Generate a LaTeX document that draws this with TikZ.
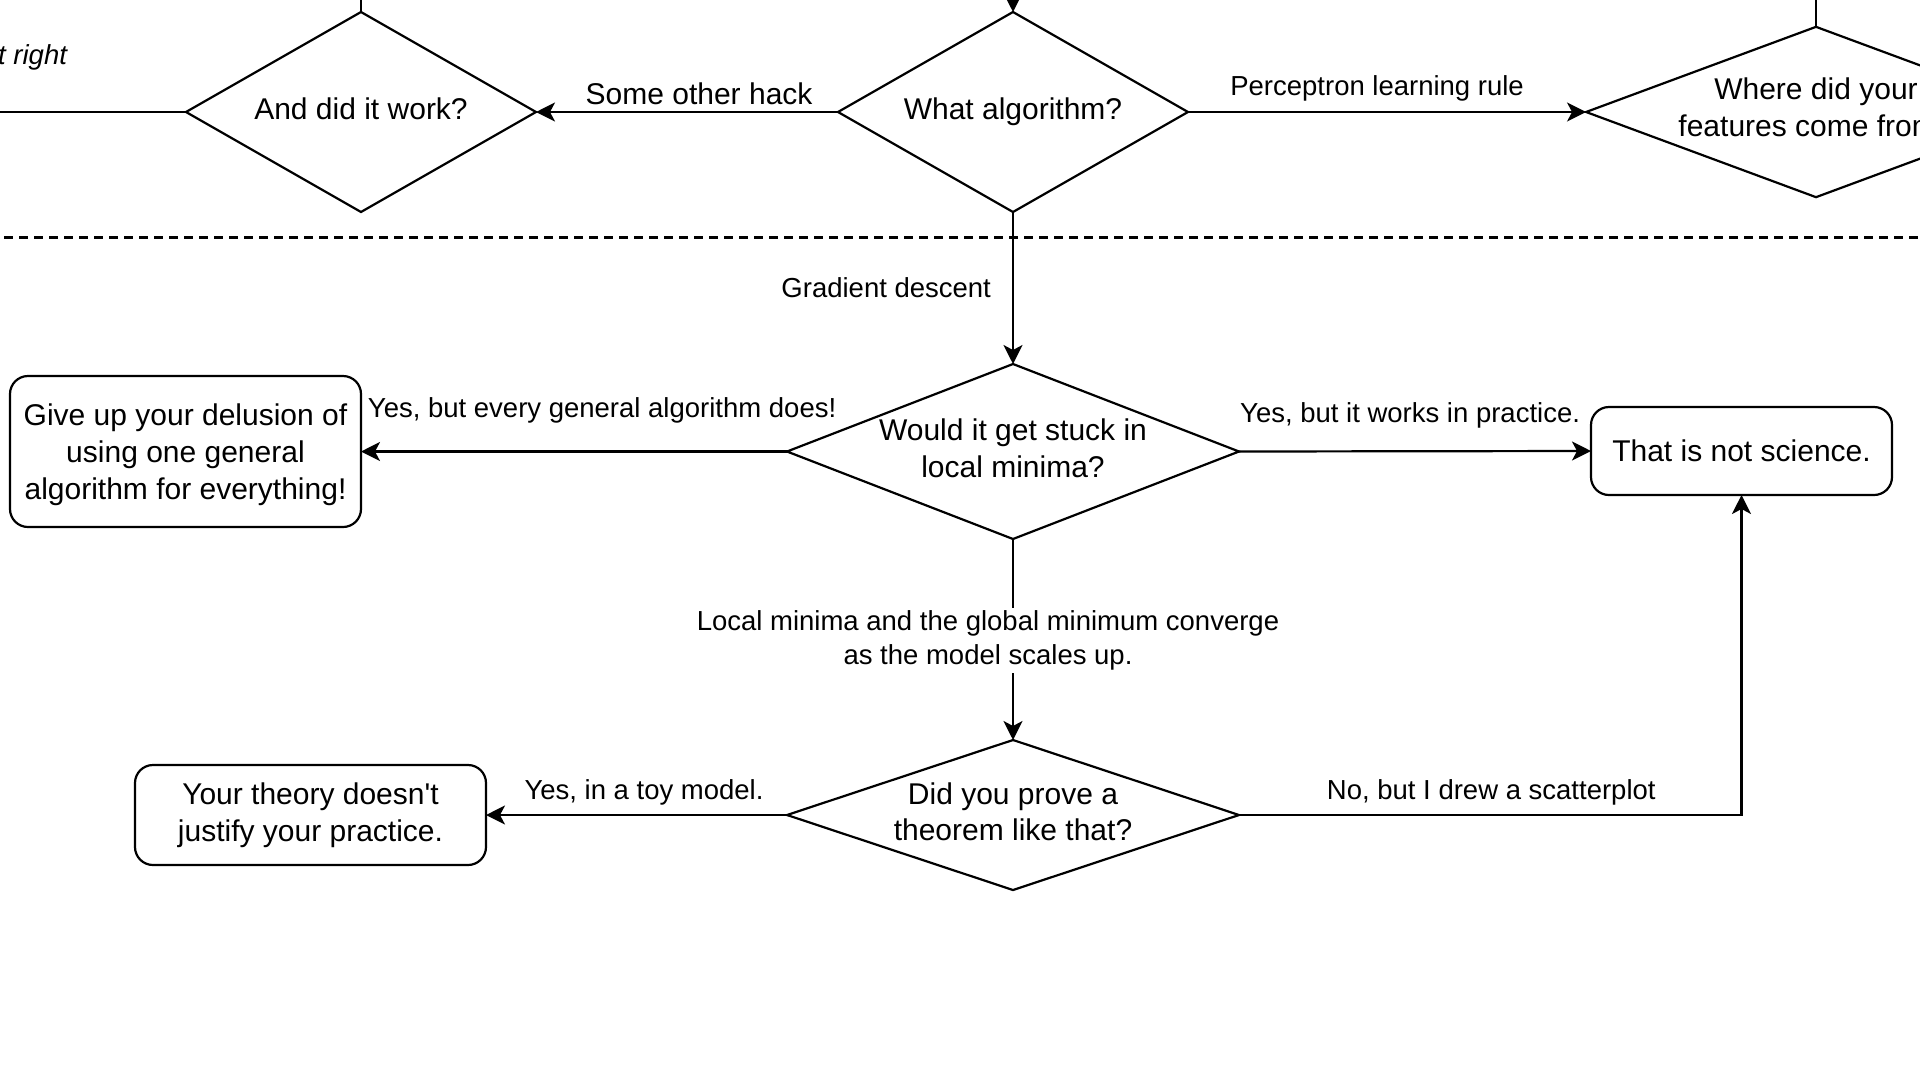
\documentclass[tikz,border=0pt]{standalone}
\usepackage{fontspec}
\setmainfont{Liberation Sans}
\usetikzlibrary{shapes.geometric,arrows.meta}

\tikzset{
  nodefont/.style={font=\fontsize{30}{36.7}\selectfont},
  lblfont/.style={font=\fontsize{27.5}{34}\selectfont},
  decision/.style={diamond, draw, line width=2.2pt, inner sep=0pt, outer sep=0pt,
    nodefont, align=center, text depth=7pt},
  endbox/.style={rectangle, draw, line width=2.2pt, rounded corners=18pt,
    inner sep=0pt, outer sep=0pt, nodefont, align=center},
  conn/.style={line width=2.2pt},
  arr/.style={conn, -{Stealth[length=19pt, width=19pt, inset=5pt]}},
  lbl/.style={lblfont, inner sep=1pt, align=center},
  divider/.style={line width=2.2pt, dash pattern=on 9pt off 6pt},
}

\begin{document}
\begin{tikzpicture}[x=1pt, y=-1pt]
\useasboundingbox (0,0) rectangle (1920,1080);
\clip (0,0) rectangle (1920,1080);

% decisions of the upper row
\node[decision, minimum width=350pt, minimum height=200pt, aspect=1.75] (work) at (361,112) {And did it work?};
\node[decision, minimum width=350pt, minimum height=200pt, aspect=1.75] (algo) at (1013,112) {What algorithm?};
\node[decision, minimum width=452pt, minimum height=170pt, aspect=2.7, text depth=10pt] (feat) at (1816,112) {Where did your\\features come from?};

% free ends leaving the visible area
\coordinate (workin) at (-10,112);
\coordinate (worktop) at (361,-10);
\coordinate (algotop) at (1013,-40);
\coordinate (feattop) at (1816,-10);

\node[lblfont, font=\fontsize{27.5}{34}\selectfont\itshape, anchor=west, inner sep=0pt] (cutlbl) at (-2,57.5) {t right};

\draw[conn] (workin) -- (work.west);
\draw[conn] (work.north) -- (worktop);
\draw[arr] (algotop) -- (algo.north);
\draw[conn] (feat.north) -- (feattop);

\draw[arr] (algo.west) -- node[lbl, pos=0.46, yshift=18pt, font=\fontsize{30}{36}\selectfont] {Some other hack} (work.east);
\draw[arr] (algo.east) -- node[lbl, pos=0.475, yshift=23.5pt] {Perceptron learning rule} (feat.west);

% dividing line
\coordinate (divl) at (4,237.5);
\coordinate (divr) at (1930,237.5);
\draw[divider] (divl) -- (divr);

% lower part
\node[decision, minimum width=452pt, minimum height=175pt, aspect=2.58] (stuck) at (1013,451.5) {Would it get stuck in\\local minima?};
\node[decision, minimum width=452pt, minimum height=150pt, aspect=3] (proof) at (1013,815) {Did you prove a\\theorem like that?};

\node[endbox, minimum width=351pt, minimum height=151pt] (giveup) at (185.5,451.5) {\rule{0pt}{28pt}Give up your delusion of\\using one general\\algorithm for everything!};
\node[endbox, minimum width=301pt, minimum height=88pt] (notsci) at (1741.5,451) {That is not science.};
\node[endbox, minimum width=351pt, minimum height=100pt] (theory) at (310.5,815) {Your theory doesn\textquotesingle t\\justify your practice.};

\draw[arr] (algo.south) -- node[lbl, pos=0.5, anchor=east, xshift=-20pt] {Gradient descent} (stuck.north);
\draw[arr] (stuck.west) -- node[lbl, pos=0.434, yshift=41pt] {Yes, but every general algorithm does!} (giveup.east);
\draw[arr] (stuck.east) -- node[lbl, pos=0.486, yshift=36pt] {Yes, but it works in practice.} (notsci.west);
\draw[arr] (stuck.south) -- node[lbl, pos=0.505, xshift=-25pt, fill=white, inner sep=3pt] {Local minima and the global minimum converge\\as the model scales up.} (proof.north);
\draw[arr] (proof.west) -- node[lbl, pos=0.475, yshift=23pt] {Yes, in a toy model.} (theory.east);
\draw[arr] (proof.east) -| node[lbl, pos=0.251, yshift=23pt] {No, but I drew a scatterplot} (notsci.south);

\end{tikzpicture}
\end{document}
